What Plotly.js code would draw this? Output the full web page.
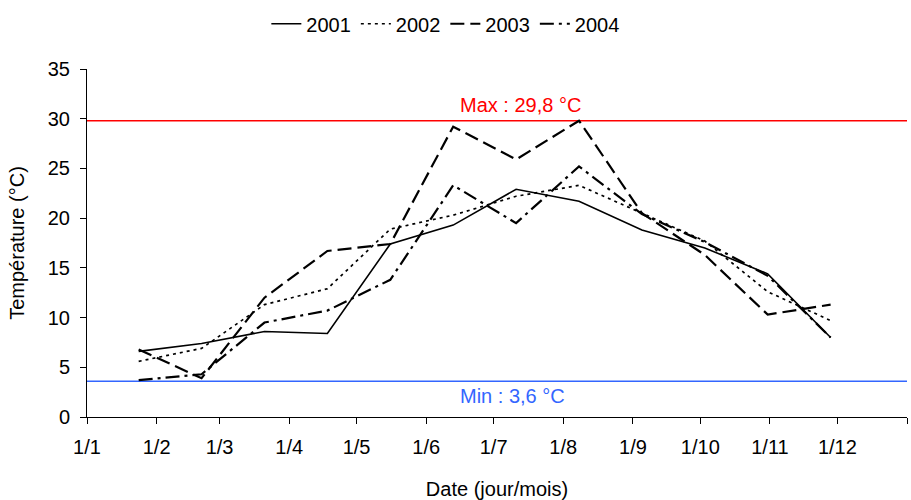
<!DOCTYPE html>
<html>
<head>
<meta charset="utf-8">
<script src="https://cdn.plot.ly/plotly-3.0.1.min.js"></script>
<style>html,body{margin:0;padding:0;background:#fff;}#chart{width:911px;height:500px;}</style>
</head>
<body>
<div id="chart"></div>
<script>
// Sampling dates (every 28 days), plotted on a yearly date axis
const dates = ['2001-01-24','2001-02-21','2001-03-21','2001-04-18','2001-05-16','2001-06-13',
               '2001-07-11','2001-08-08','2001-09-05','2001-10-03','2001-10-31','2001-11-28'];
const t2001 = [6.6, 7.4, 8.6, 8.4, 17.4, 19.3, 22.9, 21.7, 18.8, 17.0, 14.4, 8.0];
const t2002 = [5.6, 6.9, 11.3, 12.9, 18.9, 20.3, 22.2, 23.3, 20.5, 17.7, 12.6, 9.7];
const t2003 = [6.8, 3.9, 12.0, 16.7, 17.4, 29.2, 25.9, 29.8, 20.5, 16.3, 10.3, 11.3];
const t2004 = [3.7, 4.3, 9.5, 10.7, 13.8, 23.3, 19.5, 25.2, 20.4, 17.6, 14.2, 8.0];
const seriesNames = ['2001', '2002', '2003', '2004'];
const tempMax = 29.8;
const tempMin = 3.6;
const maxLabel = 'Max : 29,8 °C';
const minLabel = 'Min : 3,6 °C';
const xTickVals = ['2001-01-01','2001-02-01','2001-03-01','2001-04-01','2001-05-01','2001-06-01',
                   '2001-07-01','2001-08-01','2001-09-01','2001-10-01','2001-11-01','2001-12-01','2002-01-01'];
const xTickLabels = ['1/1','1/2','1/3','1/4','1/5','1/6','1/7','1/8','1/9','1/10','1/11','1/12',''];
const yTickVals = [0, 5, 10, 15, 20, 25, 30, 35];

const FONT = 'Arial, "Liberation Sans", sans-serif';
const seriesData = [t2001, t2002, t2003, t2004];
const styles = [
  {width: 1.6, dash: 'solid'},
  {width: 1.7, dash: '3px,4px'},
  {width: 2.2, dash: '14px,6px'},
  {width: 2.2, dash: '14px,5px,3px,5px'}
];

const traces = seriesData.map((vals, i) => ({
  type: 'scatter', mode: 'lines', name: seriesNames[i],
  x: dates, y: vals,
  line: {color: '#000000', width: styles[i].width, dash: styles[i].dash}
}));

const layout = {
  width: 911, height: 500,
  paper_bgcolor: '#ffffff', plot_bgcolor: '#ffffff',
  font: {family: FONT, size: 20, color: '#000'},
  margin: {l: 87, r: 4, t: 67, b: 83},
  showlegend: true,
  legend: {orientation: 'h', x: 0.437, xanchor: 'center', y: 1.13, yanchor: 'middle',
           font: {family: FONT, size: 20, color: '#000'}, itemgap: 14, bgcolor: 'rgba(0,0,0,0)'},
  xaxis: {
    type: 'date', range: ['2001-01-01', '2002-01-01'],
    tickmode: 'array', tickvals: xTickVals, ticktext: xTickLabels,
    ticks: 'outside', ticklen: 6, tickcolor: '#000', tickwidth: 1,
    showline: true, linecolor: '#000', linewidth: 1,
    showgrid: false, zeroline: false, fixedrange: true,
    tickfont: {family: FONT, size: 20, color: '#000'},
    ticklabelstandoff: 6,
    title: {text: 'Date (jour/mois)', font: {family: FONT, size: 20, color: '#000'}, standoff: 25},
    automargin: false
  },
  yaxis: {
    range: [0, 35], tickmode: 'array', tickvals: yTickVals,
    ticks: 'outside', ticklen: 6, tickcolor: '#000', tickwidth: 1,
    showline: true, linecolor: '#000', linewidth: 1,
    showgrid: false, zeroline: false, fixedrange: true,
    tickfont: {family: FONT, size: 20, color: '#000'},
    ticklabelstandoff: 6,
    title: {text: 'Température (°C)', font: {family: FONT, size: 20, color: '#000'}, standoff: 17},
    automargin: false
  },
  shapes: [
    {type: 'line', xref: 'paper', x0: 0, x1: 1, yref: 'y', y0: tempMax, y1: tempMax,
     line: {color: '#FF0000', width: 1.5}, layer: 'below'},
    {type: 'line', xref: 'paper', x0: 0, x1: 1, yref: 'y', y0: tempMin, y1: tempMin,
     line: {color: '#3366FF', width: 1.5}, layer: 'below'}
  ],
  annotations: [
    {xref: 'paper', x: 0.453, xanchor: 'left', yref: 'y', y: tempMax, yanchor: 'bottom', yshift: 3,
     text: maxLabel, showarrow: false, font: {family: FONT, size: 20, color: '#FF0000'}},
    {xref: 'paper', x: 0.453, xanchor: 'left', yref: 'y', y: tempMin, yanchor: 'top', yshift: -2,
     text: minLabel, showarrow: false, font: {family: FONT, size: 20, color: '#3366FF'}}
  ]
};

Plotly.newPlot('chart', traces, layout, {displayModeBar: false, staticPlot: true});
</script>
</body>
</html>
